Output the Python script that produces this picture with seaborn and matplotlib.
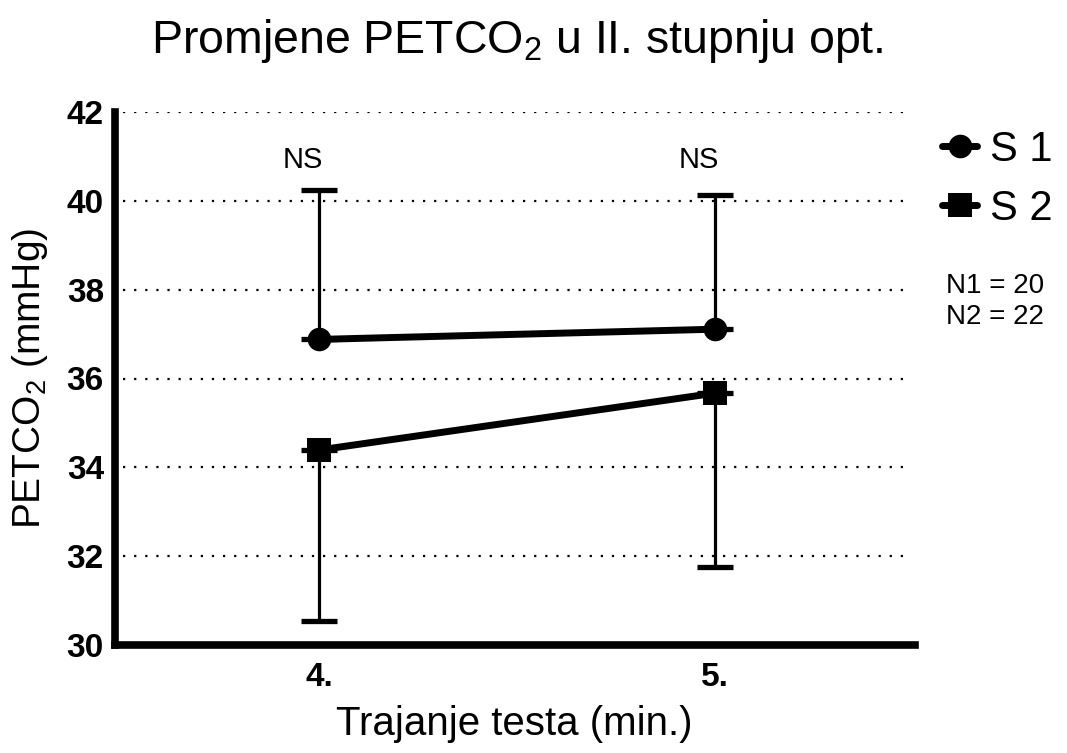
import matplotlib
matplotlib.use("Agg")
import matplotlib.pyplot as plt
import seaborn as sns
import pandas as pd
import numpy as np
from matplotlib.lines import Line2D

# data
time_points = [4, 5]
tick_labels = ["4.", "5."]
s1_mean = [36.88, 37.11]
s1_err_up = [3.36, 3.03]
s2_mean = [34.39, 35.67]
s2_err_down = [3.85, 3.92]
series_names = ["S 1", "S 2"]
ns_labels = ["NS", "NS"]
n_labels = ["N1 = 20", "N2 = 22"]

sns.set_theme(style="white")
plt.rcParams['font.family'] = ['Liberation Sans', 'DejaVu Sans']
plt.rcParams['mathtext.fontset'] = 'custom'
plt.rcParams['mathtext.rm'] = 'Liberation Sans'
plt.rcParams['mathtext.it'] = 'Liberation Sans:italic'
plt.rcParams['mathtext.bf'] = 'Liberation Sans:bold'
plt.rcParams['text.color'] = 'black'
plt.rcParams['axes.labelcolor'] = 'black'
plt.rcParams['xtick.color'] = 'black'
plt.rcParams['ytick.color'] = 'black'

df = pd.DataFrame({
    "t": time_points * 2,
    "v": s1_mean + s2_mean,
    "s": [series_names[0]] * 2 + [series_names[1]] * 2,
})

W, H = 1067, 753
fig = plt.figure(figsize=(W / 100, H / 100), dpi=100)
ax = fig.add_axes([115 / W, 1 - 645 / H, 800 / W, 533 / H])

# error bars (one-sided)
ax.errorbar(time_points, s1_mean, yerr=[np.zeros(2), s1_err_up], fmt='none',
            ecolor='black', elinewidth=2.3, capsize=13, capthick=3.8, zorder=2)
ax.errorbar(time_points, s2_mean, yerr=[s2_err_down, np.zeros(2)], fmt='none',
            ecolor='black', elinewidth=2.3, capsize=13, capthick=3.8, zorder=2)

sns.lineplot(data=df, x="t", y="v", hue="s", style="s",
             markers={series_names[0]: "o", series_names[1]: "s"},
             dashes=False, palette=["black", "black"], linewidth=5,
             markersize=17, markeredgewidth=0, ax=ax, legend=False, zorder=3)

ax.set_xlim(3.485, 5.505)
ax.set_ylim(30, 42)
ax.set_yticks([30, 32, 34, 36, 38, 40, 42])
ax.set_xticks(time_points)
ax.set_xticklabels(tick_labels)
for lab in ax.get_xticklabels() + ax.get_yticklabels():
    lab.set_fontweight('bold')
    lab.set_fontsize(24)
    lab.set_color('black')

for y in [32, 34, 36, 38, 40, 42]:
    ax.axhline(y, color='black', linestyle=(0, (1, 4)), linewidth=1.6, zorder=1,
               xmin=0.01, xmax=0.99)

for sp in ['top', 'right']:
    ax.spines[sp].set_visible(False)
for sp in ['left', 'bottom']:
    ax.spines[sp].set_linewidth(5.5)
    ax.spines[sp].set_color('black')
    ax.spines[sp].set_capstyle('projecting')
ax.tick_params(axis='both', direction='out', length=7, width=5, color='black')
ax.tick_params(axis='y', pad=1)
ax.tick_params(axis='x', pad=5)
ax.set_xlabel("")
ax.set_ylabel("")

fig.text(517 / W, 1 - 53 / H, "Promjene PETCO$_2$ u II. stupnju opt.",
         fontsize=33.5, ha='center', va='baseline', color='black')
fig.text(514 / W, 1 - 735 / H, "Trajanje testa (min.)",
         fontsize=29, ha='center', va='baseline', color='black')
fig.text(30 / W, 1 - 378 / H, "PETCO$_2$ (mmHg)", fontsize=28,
         ha='center', va='center', rotation=90, color='black')

for x, lab in zip(time_points, ns_labels):
    ax.text(x - 0.04, 40.92, lab, ha='center', va='center', fontsize=21,
            color='black')

# legend
handles = [Line2D([0], [0], color='black', linewidth=5, marker='o', markersize=17,
                  markeredgewidth=0),
           Line2D([0], [0], color='black', linewidth=5, marker='s', markersize=17,
                  markeredgewidth=0)]
leg = fig.legend(handles, series_names, loc='upper left',
                 bbox_to_anchor=(942 / W, 1 - 130 / H), borderpad=0, borderaxespad=0,
                 frameon=False, fontsize=30, handlelength=0.85, handletextpad=0.3,
                 labelspacing=0.45)
for t in leg.get_texts():
    t.set_color('black')
fig.text(946 / W, 1 - 286 / H, n_labels[0], fontsize=20, va='center', ha='left',
         color='black')
fig.text(946 / W, 1 - 317 / H, n_labels[1], fontsize=20, va='center', ha='left',
         color='black')

fig.savefig("out.png", dpi=100)
